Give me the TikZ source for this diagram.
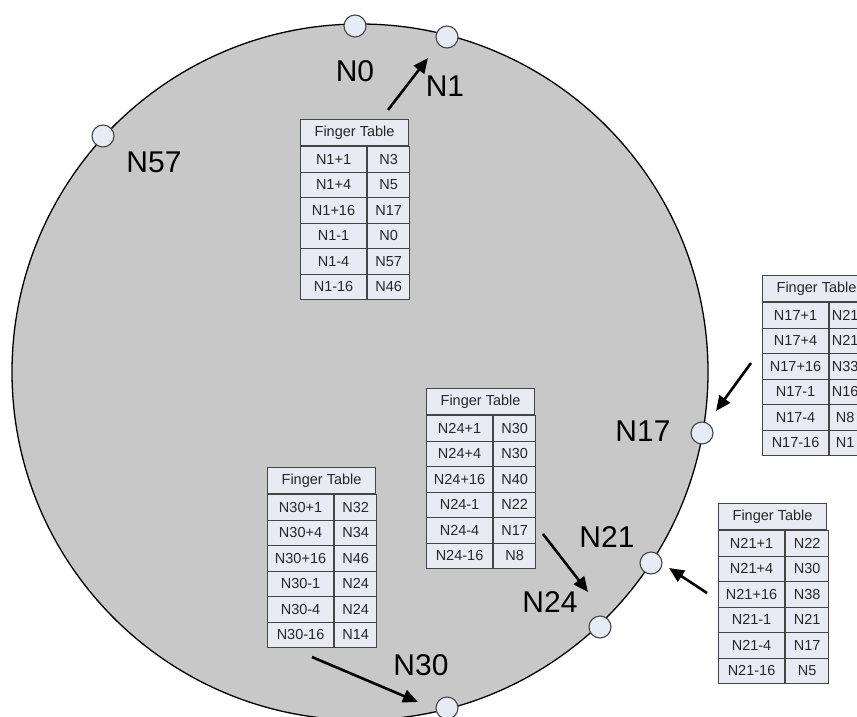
\documentclass[tikz,border=0pt]{standalone}
\usepackage{fontspec}
\setmainfont{Liberation Sans}
\usetikzlibrary{positioning, arrows.meta, calc}
\definecolor{cRing}{HTML}{C8C8C8}
\definecolor{cCell}{HTML}{E8EBF4}
\definecolor{cPeer}{HTML}{E6ECF6}
\definecolor{cEdge}{HTML}{454545}
\tikzset{
  ring/.style={
    circle, draw=black, line width=1.3pt, fill=cRing,
    minimum size=696pt, inner sep=0pt
  },
  peer/.style={
    circle, draw=cEdge, line width=1.1pt, fill=cPeer,
    minimum size=22pt, inner sep=0pt
  },
  peerlabel/.style={
    font=\fontsize{30}{30}\selectfont, text=black, inner sep=0pt
  },
  fthead/.style={
    draw=cEdge, line width=1.1pt, fill=cCell, anchor=north west,
    minimum width=108pt, minimum height=26pt, inner sep=0pt,
    font=\fontsize{14.5}{14.5}\selectfont, text=black!85
  },
  ftcell/.style={
    draw=cEdge, line width=1.1pt, fill=cCell, anchor=north west,
    minimum width=#1, minimum height=25.5pt, inner sep=0pt,
    font=\fontsize{14.5}{14.5}\selectfont, text=black!85
  },
  lookup/.style={
    -{Triangle[length=15pt, width=13pt]}, line width=2.6pt, color=black
  },
}

% finger table: [value width] name, top-left x, top-left y, rows key/value
\newcommand{\fingertable}[5][42pt]{%
  \node[fthead] (#2) at (#3,#4) {Finger Table};
  \foreach \fkey/\fval [count=\n] in {#5} {
    \node[ftcell=66pt] (#2-k\n) at ([yshift={-(\n-1)*25.5pt}]#2.south west) {\fkey};
    \node[ftcell=#1] (#2-v\n) at (#2-k\n.north east) {\fval};
  }
}

\begin{document}
\begin{tikzpicture}[x=1pt, y=-1pt]
\useasboundingbox (0,0) rectangle (857,717);
\clip (0,0) rectangle (857,717);

% the ring
\node[ring] (ring) at (360,372) {};

% peers on the ring
\node[peer] (n0) at (355,26) {};
\node[peer] (n1) at (447,37) {};
\node[peer] (n57) at (103,136) {};
\node[peer] (n17) at (702,433) {};
\node[peer] (n21) at (651,563) {};
\node[peer] (n24) at (600,627) {};
\node[peer] (n30) at (447,708) {};

% peer labels
\node[peerlabel] (l0) at (355,71) {N0};
\node[peerlabel] (l1) at (445,86) {N1};
\node[peerlabel] (l57) at (154,162) {N57};
\node[peerlabel] (l17) at (643,431) {N17};
\node[peerlabel] (l21) at (607,537) {N21};
\node[peerlabel] (l24) at (550,602) {N24};
\node[peerlabel] (l30) at (421,665) {N30};

% finger tables
\fingertable{ft1}{300}{119}{N1+1/N3, N1+4/N5, N1+16/N17, N1-1/N0, N1-4/N57, N1-16/N46}
\fingertable[31pt]{ft17}{762}{275}{N17+1/N21, N17+4/N21, N17+16/N33, N17-1/N16, N17-4/N8, N17-16/N1}
\fingertable{ft24}{426}{388}{N24+1/N30, N24+4/N30, N24+16/N40, N24-1/N22, N24-4/N17, N24-16/N8}
\fingertable{ft30}{267}{467}{N30+1/N32, N30+4/N34, N30+16/N46, N30-1/N24, N30-4/N24, N30-16/N14}
\fingertable[43pt]{ft21}{718}{503}{N21+1/N22, N21+4/N30, N21+16/N38, N21-1/N21, N21-4/N17, N21-16/N5}

% table-to-peer pointers
\coordinate (p1s) at (388,110);  \coordinate (p1e) at (428,58);
\coordinate (p17s) at (751,363); \coordinate (p17e) at (716,411);
\coordinate (p21s) at (707,593); \coordinate (p21e) at (669,568);
\coordinate (p24s) at (543,534); \coordinate (p24e) at (588,592);
\coordinate (p30s) at (312,657); \coordinate (p30e) at (418,702);
\draw[lookup] (p1s) -- (p1e);
\draw[lookup] (p17s) -- (p17e);
\draw[lookup] (p21s) -- (p21e);
\draw[lookup] (p24s) -- (p24e);
\draw[lookup] (p30s) -- (p30e);

\end{tikzpicture}
\end{document}
